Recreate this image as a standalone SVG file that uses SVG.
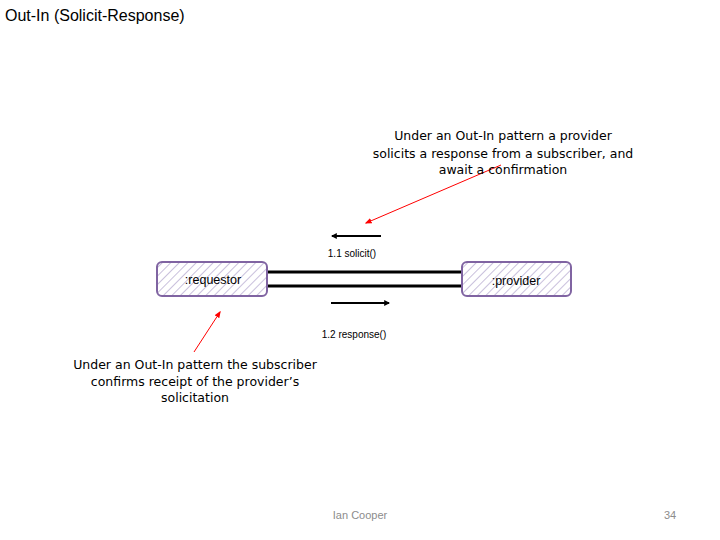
<svg xmlns="http://www.w3.org/2000/svg" width="720" height="540" viewBox="0 0 720 540">
<style>
.t{font-family:"Liberation Sans",Arial,sans-serif;fill:#000}
.c{font-family:"DejaVu Sans",sans-serif;font-size:12.5px;fill:#000;text-anchor:middle}
.lbl{font-family:"Liberation Sans",Arial,sans-serif;font-size:10px;fill:#000;text-anchor:middle}
.box{fill:url(#hatch);stroke:#8064A2;stroke-width:2}
.name{font-family:"Liberation Sans",Arial,sans-serif;font-size:12.5px;fill:#000;text-anchor:middle}
.link{stroke:#000;stroke-width:3}
.msg{stroke:#000;stroke-width:2;marker-end:url(#ah)}
.red{stroke:#FF0000;stroke-width:1;marker-end:url(#rh)}
.foot{font-family:"Liberation Sans",Arial,sans-serif;font-size:11px;fill:#8C8C8C}
</style>
<defs>
<pattern id="hatch" patternUnits="userSpaceOnUse" width="6" height="6" patternTransform="rotate(45)">
<rect width="6" height="6" fill="#fff"/>
<line x1="0" y1="0" x2="0" y2="6" stroke="#C9C0DC" stroke-width="2"/>
</pattern>
<marker id="ah" viewBox="0 0 10 10" refX="8" refY="5" markerWidth="3" markerHeight="3" orient="auto">
<path d="M0,0 L10,5 L0,10 z" fill="#000"/>
</marker>
<marker id="rh" viewBox="0 0 10 10" refX="8" refY="5" markerWidth="7" markerHeight="7" orient="auto">
<path d="M0,1 L10,5 L0,9 z" fill="#FF0000"/>
</marker>
</defs>
<rect width="720" height="540" fill="#fff"/>
<text class="t" x="5" y="21" font-size="16">Out-In (Solicit-Response)</text>
<g id="connectors">
<line class="link" x1="267" y1="272" x2="462" y2="272"/>
<line class="link" x1="267" y1="286" x2="462" y2="286"/>
<line class="msg" x1="381" y1="236" x2="332" y2="236"/>
<line class="msg" x1="331" y1="303" x2="389" y2="303"/>
<line class="red" x1="501" y1="165" x2="366" y2="223"/>
<line class="red" x1="194" y1="352" x2="220" y2="312"/>
</g>
<text class="lbl" x="352" y="257">1.1 solicit()</text>
<text class="lbl" x="354" y="338">1.2 response()</text>
<g id="requestor">
<rect class="box" x="157" y="262" width="110" height="34" rx="5"/>
<text class="name" x="213" y="284">:requestor</text>
</g>
<g id="provider">
<rect class="box" x="462" y="262" width="109" height="34" rx="5"/>
<text class="name" x="516" y="285">:provider</text>
</g>
<g id="note-top">
<text class="c" x="503" y="140">Under an Out-In pattern a provider</text>
<text class="c" x="503" y="158">solicits a response from a subscriber, and</text>
<text class="c" x="503" y="174">await a confirmation</text>
</g>
<g id="note-bottom">
<text class="c" x="195" y="369">Under an Out-In pattern the subscriber</text>
<text class="c" x="195" y="386">confirms receipt of the provider’s</text>
<text class="c" x="195" y="402">solicitation</text>
</g>
<text class="foot" x="360" y="519" text-anchor="middle">Ian Cooper</text>
<text class="foot" x="670" y="519" text-anchor="middle">34</text>
</svg>
